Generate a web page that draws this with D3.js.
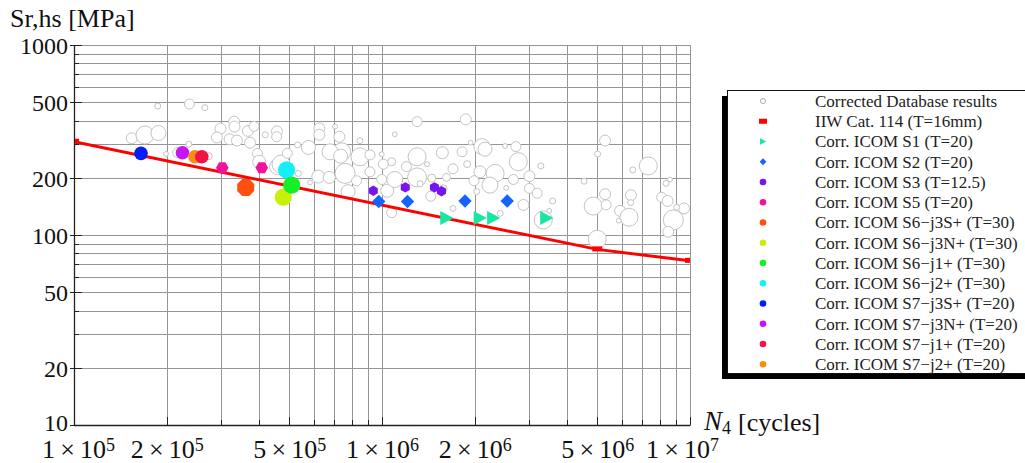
<!DOCTYPE html>
<html>
<head>
<meta charset="utf-8">
<script src="https://cdn.jsdelivr.net/npm/d3@7"></script>
<style>
  body { margin: 0; background: #fff; }
  svg { font-family: "Liberation Serif", "DejaVu Serif", serif; }
</style>
</head>
<body>
<div id="chart"></div>
<script>

// ---- data ----
// corrected database results: [N cycles, S MPa, weight (bubble size)]
var dbPoints = [
  [1.87e5,477,9],[2.37e5,489,25],[2.66e5,468,9],[1.54e5,323,30],[1.70e5,336,81],
  [1.88e5,344,56],[1.99e5,267,6],[2.17e5,271,25],[2.36e5,301,9],[2.74e5,260,12],
  [2.99e5,363,30],[3.31e5,395,30],[3.32e5,372,30],[2.91e5,326,30],[3.20e5,319,30],
  [3.38e5,314,30],[3.67e5,353,30],[3.84e5,373,25],[3.73e5,306,30],[4.18e5,337,9],
  [4.56e5,351,30],[4.55e5,329,25],[3.94e5,269,25],[3.99e5,243,42],[4.58e5,229,64],
  [4.70e5,236,81],[5.32e5,298,9],[5.77e5,289,49],[4.93e5,269,25],[6.26e5,364,30],
  [6.26e5,337,30],[7.04e5,372,6],[7.27e5,329,30],[7.40e5,274,81],[6.21e5,203,42],
  [6.74e5,201,36],[7.76e5,169,49],[5.84e5,189,6],[5.35e5,211,9],[8.48e5,314,9],
  [6.78e5,274,64],[7.34e5,260,49],[8.48e5,258,81],[9.14e5,264,25],[9.98e5,266,6],
  [1.01e6,236,25],[1.075e6,243,16],[7.59e5,211,100],[8.27e5,193,25],[9.14e5,215,25],
  [9.98e5,196,25],[1.04e6,171,42],[1.10e6,196,64],[1.30e6,258,81],[1.30e6,201,90],
  [1.20e6,229,25],[1.40e6,236,6],[1.57e6,271,36],[1.82e6,274,25],[1.89e6,236,12],
  [1.70e6,223,25],[1.94e6,306,6],[2.11e6,292,64],[1.10e6,339,6],[1.30e6,395,25],
  [1.87e6,406,30],[1.44e6,160,25],[1.33e6,186,9],[1.45e6,199,16],[1.62e6,201,16],
  [1.58e6,175,16],[1.99e6,193,25],[2.08e6,215,36],[2.03e6,169,9],[1.70e6,138,9],
  [1.075e6,131,25],[2.16e6,283,49],[2.51e6,294,6],[2.72e6,292,25],[2.77e6,243,81],
  [2.33e6,211,81],[2.24e6,183,64],[2.67e6,196,25],[3.01e6,204,30],[3.01e6,176,25],
  [3.19e6,166,25],[3.28e6,231,9],[2.53e6,177,6],[2.88e6,144,30],[3.58e6,151,9],
  [3.49e6,134,6],[3.34e6,120,81],[2.42e6,130,9],[5.30e6,314,30],[5.01e6,267,9],
  [4.53e6,192,9],[4.85e6,142,81],[5.30e6,164,30],[5.34e6,144,25],[5.93e6,134,30],
  [6.34e6,124,81],[5.87e6,119,6],[6.43e6,162,30],[6.42e6,148,9],[6.52e6,220,9],
  [7.32e6,231,81],[5.00e6,95,81],[8.09e6,158,25],[8.46e6,151,30],[8.36e6,187,9],
  [8.61e6,196,6],[8.83e6,120,100],[8.50e6,104,30],[9.56e6,138,30],[9.05e6,140,9]
];

// IIW design curve FAT 114 (knee at 5e6)
var iiwN = [1e5, 5e6, 1e7];
var iiwS = [309.5, 84.0, 73.1];

// corrected ICOM test series [N, S]
var icomS1     = [[1.62e6,123],[2.08e6,123],[2.30e6,123],[3.42e6,123]];
var icomS2     = [[9.76e5,150],[1.21e6,150],[1.86e6,151],[2.55e6,151]];
var icomS3     = [[9.37e5,171],[1.19e6,178],[1.48e6,178],[1.56e6,170]];
var icomS5     = [[3.03e5,226],[4.07e5,226]];
var icomS6j3S  = [[3.61e5,178]];
var icomS6j3N  = [[4.78e5,158]];
var icomS6j1   = [[5.09e5,183]];
var icomS6j2   = [[4.90e5,220]];
var icomS7j3S  = [[1.65e5,269]];
var icomS7j3N  = [[2.25e5,271]];
var icomS7j1   = [[2.60e5,258]];
var icomS7j2   = [[2.47e5,258]];

var legendLabels = [
  "Corrected Database results", "IIW Cat. 114 (T=16mm)",
  "Corr. ICOM S1 (T=20)", "Corr. ICOM S2 (T=20)", "Corr. ICOM S3 (T=12.5)",
  "Corr. ICOM S5 (T=20)", "Corr. ICOM S6\u2212j3S+ (T=30)", "Corr. ICOM S6\u2212j3N+ (T=30)",
  "Corr. ICOM S6\u2212j1+ (T=30)", "Corr. ICOM S6\u2212j2+ (T=30)", "Corr. ICOM S7\u2212j3S+ (T=20)",
  "Corr. ICOM S7\u2212j3N+ (T=20)", "Corr. ICOM S7\u2212j1+ (T=20)", "Corr. ICOM S7\u2212j2+ (T=20)"
];
var icomColors = ["#19e6a0","#1464ff","#7814f0","#f0149a","#ff5010","#c8f00a",
                  "#14f028","#14f0fa","#001ef5","#c814f0","#f01446","#fa8c14"];

var yMajor = [10, 20, 50, 100, 200, 500, 1000];
var xMajor = [1e5, 2e5, 5e5, 1e6, 2e6, 5e6, 1e7];

// ---- drawing ----
var width = 1025, height = 463;
var plot = {left: 74, right: 690, top: 45, bottom: 425};

var svg = d3.select("#chart").append("svg")
    .attr("width", width)
    .attr("height", height);

var x = d3.scaleLog().domain([1e5, 1e7]).range([plot.left, plot.right]);
var y = d3.scaleLog().domain([10, 1000]).range([plot.bottom, plot.top]);
var r = d3.scaleSqrt().domain([0, 100]).range([0, 10]);

function px(v) { return Math.round(v) + 0.5; }

// grid
var grid = svg.append("g").attr("stroke", "#959595").attr("stroke-width", 1);
grid.selectAll("line.v").data(x.ticks()).enter().append("line")
    .attr("x1", function(d) { return px(x(d)); })
    .attr("x2", function(d) { return px(x(d)); })
    .attr("y1", plot.top).attr("y2", plot.bottom);
grid.selectAll("line.h").data(y.ticks()).enter().append("line")
    .attr("y1", function(d) { return px(y(d)); })
    .attr("y2", function(d) { return px(y(d)); })
    .attr("x1", plot.left).attr("x2", plot.right);

svg.append("clipPath").attr("id", "clip")
  .append("rect")
    .attr("x", plot.left).attr("y", plot.top)
    .attr("width", plot.right - plot.left).attr("height", plot.bottom - plot.top);

var body = svg.append("g").attr("clip-path", "url(#clip)");

// database bubbles
body.append("g").selectAll("circle")
    .data(dbPoints)
  .enter().append("circle")
    .attr("cx", function(d) { return x(d[0]); })
    .attr("cy", function(d) { return y(d[1]); })
    .attr("r", function(d) { return r(d[2]); })
    .attr("fill", "#fff")
    .attr("stroke", "#c4c4c4")
    .attr("stroke-width", 1);

// IIW line
var iiw = iiwN.map(function(n, i) { return [n, iiwS[i]]; });
body.append("path")
    .datum(iiw)
    .attr("fill", "none")
    .attr("stroke", "#ff0000")
    .attr("stroke-width", 3)
    .attr("d", d3.line().x(function(d) { return x(d[0]); }).y(function(d) { return y(d[1]); }));
body.selectAll("rect.iiw").data(iiw).enter().append("rect")
    .attr("x", function(d) { return x(d[0]) - 5; })
    .attr("y", function(d) { return y(d[1]) - 3; })
    .attr("width", 10).attr("height", 5)
    .attr("fill", "#ff0000");

// marker shapes
function polyPath(n, rad, rot) {
  var pts = d3.range(n).map(function(i) {
    var a = rot + 2 * Math.PI * i / n;
    return [(rad * Math.cos(a)).toFixed(2), (rad * Math.sin(a)).toFixed(2)];
  });
  return "M" + pts.join("L") + "Z";
}
function triPath(rad) {
  return "M" + rad + ",0L" + (-0.9 * rad) + "," + (-rad) + "L" + (-0.9 * rad) + "," + rad + "Z";
}
var shapes = [
  triPath(7),                       // S1
  polyPath(4, 6.7, 0),              // S2
  polyPath(6, 5.2, -Math.PI / 2),   // S3
  polyPath(6, 6.3, 0),              // S5
  polyPath(8, 9.2, Math.PI / 8),    // S6-j3S+
  polyPath(16, 8.6, 0),             // S6-j3N+
  polyPath(16, 8.6, 0),             // S6-j1+
  polyPath(16, 8.6, 0),             // S6-j2+
  polyPath(16, 6.8, 0),             // S7-j3S+
  polyPath(16, 6.8, 0),             // S7-j3N+
  polyPath(16, 6.8, 0),             // S7-j1+
  polyPath(16, 6.8, 0)              // S7-j2+
];
var icomData = [icomS1, icomS2, icomS3, icomS5, icomS6j3S, icomS6j3N,
                icomS6j1, icomS6j2, icomS7j3S, icomS7j3N, icomS7j1, icomS7j2];
// draw the S6 trio in the picture's stacking order
var drawOrder = [0, 1, 2, 3, 4, 8, 9, 11, 10, 7, 5, 6];

drawOrder.forEach(function(k) {
  body.append("g").selectAll("path")
      .data(icomData[k])
    .enter().append("path")
      .attr("transform", function(d) { return "translate(" + x(d[0]) + "," + y(d[1]) + ")"; })
      .attr("d", shapes[k])
      .attr("fill", icomColors[k]);
});

// axes
var axisG = svg.append("g").attr("stroke", "#222");
axisG.append("line").attr("x1", px(plot.left)).attr("x2", px(plot.left))
    .attr("y1", plot.top).attr("y2", plot.bottom + 0.5).attr("stroke-width", 1.3);
axisG.append("line").attr("x1", plot.left).attr("x2", plot.right + 0.5)
    .attr("y1", px(plot.bottom)).attr("y2", px(plot.bottom)).attr("stroke-width", 1.3);
axisG.selectAll("line.yt").data(y.ticks()).enter().append("line")
    .attr("y1", function(d) { return px(y(d)); })
    .attr("y2", function(d) { return px(y(d)); })
    .attr("x1", function(d) { return yMajor.indexOf(d) >= 0 ? plot.left - 4 : plot.left; })
    .attr("x2", function(d) { return yMajor.indexOf(d) >= 0 ? plot.left + 8 : plot.left + 5; });
axisG.selectAll("line.xt").data(x.ticks()).enter().append("line")
    .attr("x1", function(d) { return px(x(d)); })
    .attr("x2", function(d) { return px(x(d)); })
    .attr("y1", plot.bottom)
    .attr("y2", function(d) { return xMajor.indexOf(d) >= 0 ? plot.bottom - 8 : plot.bottom - 5; });

// tick labels
var gy = svg.append("g")
    .attr("transform", "translate(" + plot.left + ",0)")
    .call(d3.axisLeft(y).tickValues(yMajor).tickFormat(d3.format("d")).tickSize(0).tickPadding(6));
gy.select(".domain").remove();
gy.selectAll("text").attr("font-size", "24px").attr("font-family", "Liberation Serif")
    .attr("fill", "#111").attr("dy", function(d) { return d === 10 ? "0.22em" : "0.36em"; });

var gx = svg.append("g")
    .attr("transform", "translate(0," + plot.bottom + ")")
    .call(d3.axisBottom(x).tickValues(xMajor).tickSize(0).tickPadding(15));
gx.select(".domain").remove();
gx.selectAll("text").text(null)
    .attr("font-size", "26px").attr("font-family", "Liberation Serif").attr("fill", "#111")
    .attr("dx", function(d) { return d === 1e7 ? "-8" : (d === 1e5 ? "4" : null); })
    .each(function(d) {
      var e = Math.floor(Math.log10(d) + 1e-9), m = Math.round(d / Math.pow(10, e));
      var t = d3.select(this);
      t.append("tspan").text(m + "\u2009\u00d7\u200910");
      t.append("tspan").attr("dy", "-0.42em").attr("font-size", "18px").text(e);
    });

// axis titles
svg.append("text").attr("x", 10).attr("y", 27)
    .attr("font-size", "26px").attr("fill", "#111")
    .text("Sr,hs [MPa]");
var xt = svg.append("g").attr("fill", "#111");
xt.append("text").attr("x", 704).attr("y", 430).attr("font-size", "27px")
    .attr("font-style", "italic").text("N");
xt.append("text").attr("x", 722).attr("y", 434).attr("font-size", "18px").text("4");
xt.append("text").attr("x", 738).attr("y", 431).attr("font-size", "26px").text("[cycles]");

// legend
var lg = svg.append("g");
lg.append("rect").attr("x", 722).attr("y", 96).attr("width", 330).attr("height", 283).attr("fill", "#000");
lg.append("rect").attr("x", 727.5).attr("y", 90.5).attr("width", 330).attr("height", 283)
    .attr("fill", "#fff").attr("stroke", "#111").attr("stroke-width", 1);

var rowY = function(i) { return 101 + i * 20.25; };
var mx = 763;
lg.selectAll("text.lab").data(legendLabels).enter().append("text")
    .attr("x", 815).attr("y", function(d, i) { return rowY(i); })
    .attr("dy", "0.35em").attr("font-size", "17px").attr("fill", "#222")
    .text(function(d) { return d; });

lg.append("circle").attr("cx", mx).attr("cy", rowY(0)).attr("r", 2.5)
    .attr("fill", "#fff").attr("stroke", "#aaa");
lg.append("rect").attr("x", mx - 4).attr("y", rowY(1) - 2.5).attr("width", 8).attr("height", 5)
    .attr("fill", "#ff0000");
var legShapes = [triPath(3.3), polyPath(4, 3.4, 0)];
icomColors.forEach(function(c, k) {
  var yy = rowY(k + 2);
  if (k < 2) {
    lg.append("path").attr("transform", "translate(" + mx + "," + yy + ")")
        .attr("d", legShapes[k]).attr("fill", c);
  } else {
    lg.append("circle").attr("cx", mx).attr("cy", yy).attr("r", 3.3).attr("fill", c);
  }
});

</script>
</body>
</html>
